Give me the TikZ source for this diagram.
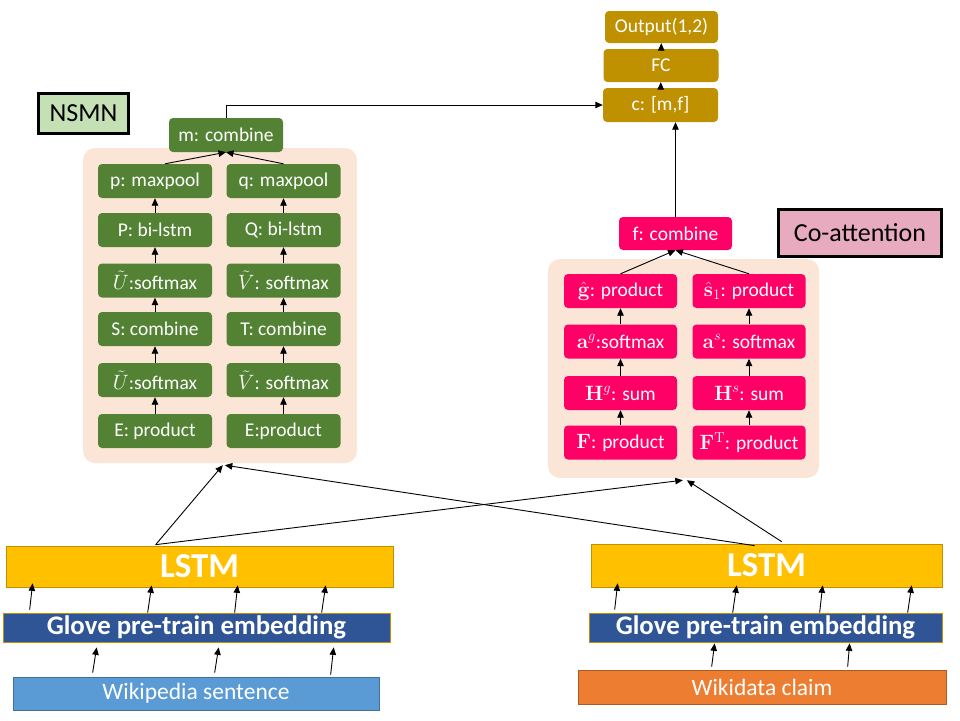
\documentclass[tikz,border=0pt]{standalone}
\usepackage[no-math]{fontspec}
\setmainfont{Carlito}
\usetikzlibrary{arrows.meta,calc}
\definecolor{nsmngreen}{RGB}{84,130,53}
\definecolor{nsmnfill}{RGB}{197,224,180}
\definecolor{coattpink}{RGB}{255,0,102}
\definecolor{coattfill}{RGB}{232,170,191}
\definecolor{peach}{RGB}{251,229,214}
\definecolor{outgold}{RGB}{191,144,0}
\definecolor{lstmyellow}{RGB}{255,192,0}
\definecolor{glovblue}{RGB}{47,85,151}
\definecolor{wikiblue}{RGB}{91,155,213}
\definecolor{wikiedge}{RGB}{65,113,156}
\definecolor{claimorange}{RGB}{237,125,49}
\definecolor{claimedge}{RGB}{174,90,33}

\begin{document}
\begin{tikzpicture}[x=1pt,y=1pt,yscale=-1,
  box/.style={rounded corners=4pt,text=white,inner sep=0pt,font=\fontsize{19.5}{22}\selectfont},
  greenbox/.style={box,fill=nsmngreen,minimum width=114pt,minimum height=34pt},
  pinkbox/.style={box,fill=coattpink,minimum width=113pt,minimum height=34pt},
  goldbox/.style={box,fill=outgold,minimum width=115pt,minimum height=33pt},
  bgbox/.style={rounded corners=12pt,fill=peach,inner sep=0pt},
  tagbox/.style={draw=black,line width=2.5pt,inner sep=0pt,font=\fontsize{26}{29}\selectfont},
  bar/.style={draw=outgold,line width=0.7pt,inner sep=0pt,text=white},
  arr/.style={-{Triangle[length=7.5pt,width=6.5pt]},line width=0.9pt}]
\useasboundingbox (0,0) rectangle (960,720);

%Background panels
\node[bgbox,minimum width=274pt,minimum height=315pt] (nsmnbg) at (220,305.5) {};
\node[bgbox,minimum width=271pt,minimum height=219pt] (coattbg) at (683.5,368.5) {};

%Labels
\node[tagbox,fill=nsmnfill,minimum width=90pt,minimum height=40pt] (nsmn) at (83.5,113.5) {NSMN};
\node[tagbox,fill=coattfill,minimum width=163pt,minimum height=47pt] (coatt) at (860,233) {Co-attention};

%NSMN left column
\node[greenbox] (pmax) at (155,181) {p: maxpool};
\node[greenbox] (Pbi) at (155,230) {P: bi-lstm};
\node[greenbox] (Usm2) at (155,280.5) {$\tilde{U}$:softmax};
\node[greenbox] (Scomb) at (155,329) {S: combine};
\node[greenbox] (Usm1) at (155,380) {$\tilde{U}$:softmax};
\node[greenbox] (Eprod) at (155,431) {E: product};
%NSMN right column
\node[greenbox] (qmax) at (283.5,181) {q: maxpool};
\node[greenbox] (Qbi) at (283.5,230) {Q: bi-lstm};
\node[greenbox] (Vsm2) at (283.5,280.5) {$\tilde{V}$: softmax};
\node[greenbox] (Tcomb) at (283.5,329) {T: combine};
\node[greenbox] (Vsm1) at (283.5,380) {$\tilde{V}$: softmax};
\node[greenbox] (Eprod2) at (283.5,431) {E:product};
\node[greenbox] (mcomb) at (226,135) {m: combine};

%Co-attention columns
\node[pinkbox] (ghat) at (620.5,291) {$\hat{\mathbf{g}}$: product};
\node[pinkbox] (ag) at (620.5,341.5) {$\mathbf{a}^{g}$:softmax};
\node[pinkbox] (Hg) at (620.5,393) {$\mathbf{H}^{g}$: sum};
\node[pinkbox] (Fprod) at (620.5,442.5) {$\mathbf{F}$: product};
\node[pinkbox] (shat) at (749,291) {$\hat{\mathbf{s}}_{1}$: product};
\node[pinkbox] (as) at (749,341.5) {$\mathbf{a}^{s}$: softmax};
\node[pinkbox] (Hs) at (749,393) {$\mathbf{H}^{s}$: sum};
\node[pinkbox] (FTprod) at (749,442.5) {$\mathbf{F}^{\mathrm{T}}$: product};
\node[pinkbox,minimum height=33pt] (fcomb) at (675.5,233.5) {f: combine};

%Output stack
\node[goldbox,minimum width=113pt,minimum height=32pt] (out) at (661.5,27) {Output(1,2)};
\node[goldbox] (fc) at (661,65.5) {FC};
\node[goldbox,minimum height=34pt] (cmf) at (660.5,105) {c: [m,f]};

%Input bars
\node[bar,fill=lstmyellow,minimum width=387pt,minimum height=41pt,font=\bfseries\fontsize{35}{38}\selectfont] (lstmL) at (199.5,566.5) {LSTM};
\node[bar,fill=glovblue,minimum width=387pt,minimum height=29pt,font=\bfseries\fontsize{26.8}{30}\selectfont] (gloveL) at (196.5,627.5) {Glove pre-train embedding};
\node[bar,draw=wikiedge,fill=wikiblue,minimum width=366pt,minimum height=33pt,font=\fontsize{23.5}{26}\selectfont] (wiki) at (196,693.5) {Wikipedia sentence};
\node[bar,fill=lstmyellow,minimum width=351pt,minimum height=43pt,font=\bfseries\fontsize{35}{38}\selectfont] (lstmR) at (766.5,565.5) {LSTM};
\node[bar,fill=glovblue,minimum width=353pt,minimum height=29pt,font=\bfseries\fontsize{26.8}{30}\selectfont] (gloveR) at (765.5,627.5) {Glove pre-train embedding};
\node[bar,draw=claimedge,fill=claimorange,minimum width=368pt,minimum height=34pt,font=\fontsize{23.5}{26}\selectfont] (claim) at (762,687) {Wikidata claim};

%Arrows inside NSMN
\draw[arr] (Eprod) -- (Usm1);
\draw[arr] (Usm1) -- (Scomb);
\draw[arr] (Scomb) -- (Usm2);
\draw[arr] (Usm2) -- (Pbi);
\draw[arr] (Pbi) -- (pmax);
\draw[arr] (Eprod2) -- (Vsm1);
\draw[arr] (Vsm1) -- (Tcomb);
\draw[arr] (Tcomb) -- (Vsm2);
\draw[arr] (Vsm2) -- (Qbi);
\draw[arr] (Qbi) -- (qmax);
\draw[arr] ($(pmax.north)+(10,0)$) -- (mcomb.south);
\draw[arr] (qmax.north) -- (mcomb.south);

%Arrows inside Co-attention
\draw[arr] (Fprod) -- (Hg);
\draw[arr] (Hg) -- (ag);
\draw[arr] (ag) -- (ghat);
\draw[arr] (FTprod) -- (Hs);
\draw[arr] (Hs) -- (as);
\draw[arr] (as) -- (shat);
\draw[arr] (ghat.north) -- (fcomb.south);
\draw[arr] (shat.north) -- (fcomb.south);

%Arrows to the output
\draw[arr] (mcomb.north) |- (cmf.west);
\draw[arr] (fcomb.north) -- (fcomb.north |- cmf.south);
\draw[arr] (cmf) -- (fc);
\draw[arr] (fc) -- (out);

%Crossing arrows
\coordinate (lstmLout) at ($(lstmL.north west)+(150,-1)$);
\coordinate (lstmRout1) at ($(lstmR.north west)+(164,2)$);
\coordinate (lstmRout2) at ($(lstmR.north west)+(191,-2)$);
\draw[arr] (lstmLout) -- ($(nsmnbg.south west)+(140,2)$);
\draw[arr] (lstmLout) -- ($(coattbg.south west)+(135,2)$);
\draw[arr] (lstmRout1) -- ($(nsmnbg.south west)+(142,2)$);
\draw[arr] (lstmRout2) -- ($(coattbg.south west)+(139,2)$);

%Left input arrows
\draw[arr] ($(gloveL.north west)+(27,-3)$) -- ($(lstmL.south west)+(27,-4)$);
\draw[arr] ($(gloveL.north west)+(145,0)$) -- ($(lstmL.south west)+(146,-2)$);
\draw[arr] ($(gloveL.north west)+(232,0)$) -- ($(lstmL.south west)+(232,-2)$);
\draw[arr] ($(gloveL.north west)+(319,0)$) -- ($(lstmL.south west)+(320,-2)$);
\draw[arr] ($(wiki.north west)+(80,-4)$) -- ($(gloveL.south west)+(94,5)$);
\draw[arr] ($(wiki.north west)+(202,-4)$) -- ($(gloveL.south west)+(216,5)$);
\draw[arr] ($(wiki.north west)+(318,-2)$) -- ($(gloveL.south west)+(331,5)$);

%Right input arrows
\draw[arr] ($(gloveR.north west)+(26,-3)$) -- ($(lstmR.south west)+(27,-4)$);
\draw[arr] ($(gloveR.north west)+(144,0)$) -- ($(lstmR.south west)+(146,-2)$);
\draw[arr] ($(gloveR.north west)+(231,0)$) -- ($(lstmR.south west)+(232,-2)$);
\draw[arr] ($(gloveR.north west)+(319,0)$) -- ($(lstmR.south west)+(321,-2)$);
\draw[arr] ($(claim.north west)+(134,-3)$) -- ($(gloveR.south west)+(126,1)$);
\draw[arr] ($(claim.north west)+(270,-3)$) -- ($(gloveR.south west)+(261,1)$);

\end{tikzpicture}
\end{document}
